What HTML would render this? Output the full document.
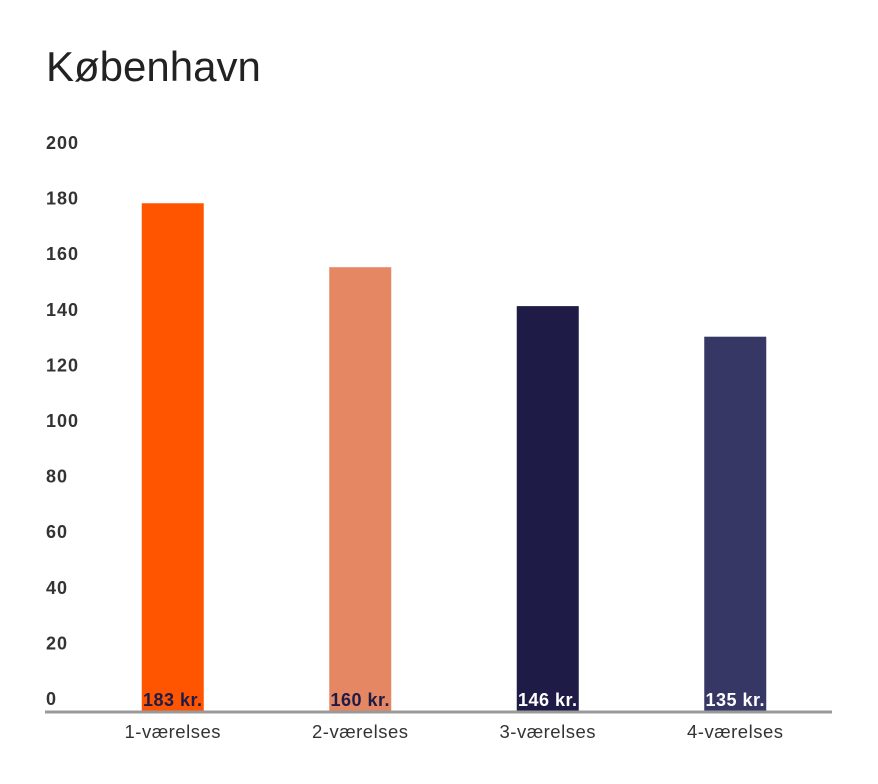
<!DOCTYPE html>
<html><head><meta charset="utf-8"><style>
body{margin:0;background:#fff;font-family:"Liberation Sans",sans-serif;}
</style></head><body>
<svg width="878" height="779">
<text x="46" y="81" font-size="42" fill="#222">København</text>
<g id="yaxis"></g><g id="bars"></g><g id="xaxis"></g>
<line x1="45" x2="832" y1="712" y2="712" stroke="#999" stroke-width="3"/>
</svg>
<script>
const categories=["1-værelses","2-værelses","3-værelses","4-værelses"];
const values=[183,160,146,135];
const valueLabels=["183 kr.","160 kr.","146 kr.","135 kr."];
const colors=["#ff5500","#e58763","#1e1c47","#363764"];
const labelColors=["#1e1c47","#1e1c47","#ffffff","#ffffff"];
const yTicks=[0,20,40,60,80,100,120,140,160,180,200];
const ns="http://www.w3.org/2000/svg";
const y0=712,yTop=156,yMax=200;
const y=v=>y0-(v/yMax)*(y0-yTop);
const bandStart=79,band=187.5,bw=62;
const xc=i=>bandStart+band*i+band/2;
function mk(t,a,p){const e=document.createElementNS(ns,t);for(const k in a)e.setAttribute(k,a[k]);p.appendChild(e);return e;}
const ya=document.getElementById('yaxis');
yTicks.forEach(v=>{const t=mk('text',{x:46,y:y(v)-7,'font-size':18,'font-weight':'bold','letter-spacing':1,fill:'#333'},ya);t.textContent=v;

});
const bg=document.getElementById('bars'),xa=document.getElementById('xaxis');
values.forEach((v,i)=>{
const r=mk('rect',{x:xc(i)-bw/2,y:y(v),width:bw,height:y0-y(v),fill:colors[i]},bg);


const l=mk('text',{x:xc(i),y:y0-6,'text-anchor':'middle','font-size':18,'font-weight':'bold','letter-spacing':0.5,fill:labelColors[i]},bg);l.textContent=valueLabels[i];


const c=mk('text',{x:xc(i),y:738,'text-anchor':'middle','font-size':18.5,'letter-spacing':0.5,fill:'#333'},xa);c.textContent=categories[i];


});
</script>
</body></html>
